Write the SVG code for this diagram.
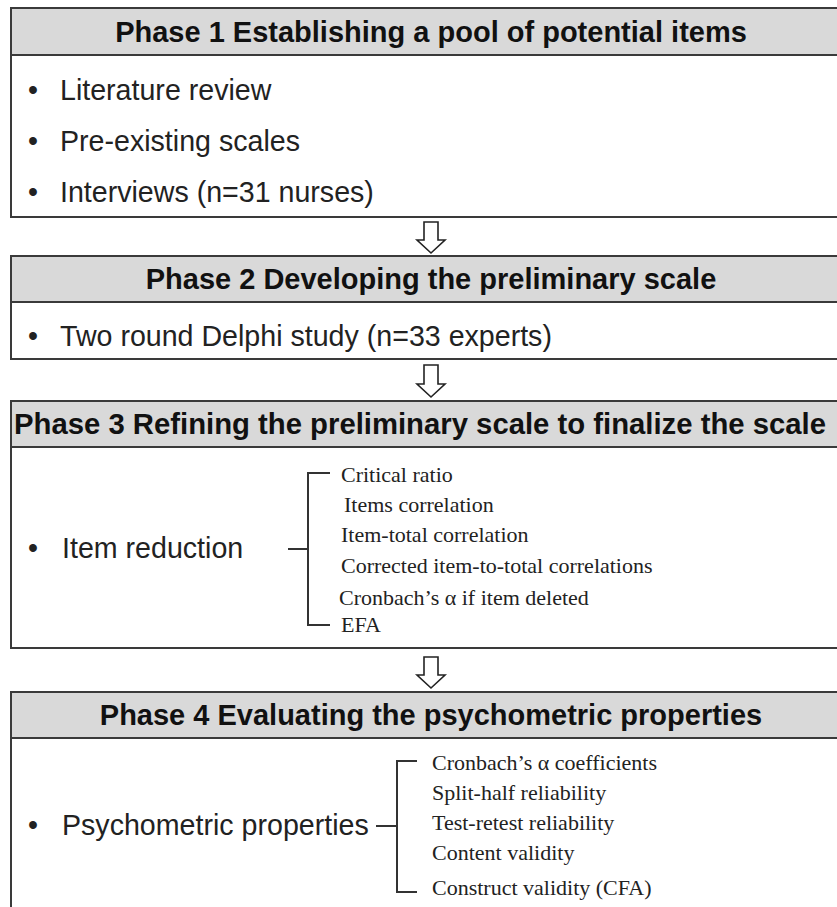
<svg xmlns="http://www.w3.org/2000/svg" width="837" height="907" viewBox="0 0 837 907">
<style>
.box{fill:#ffffff;stroke:#3a3a3a;stroke-width:2}
.hdr{fill:#d9d9d9;stroke:#3a3a3a;stroke-width:2}
.ht{font-family:"Liberation Sans",Arial,sans-serif;font-weight:bold;font-size:29px;fill:#111;text-anchor:middle}
.bt{font-family:"Liberation Sans",Arial,sans-serif;font-size:28.6px;fill:#222}
.st{font-family:"Liberation Serif","Times New Roman",serif;font-size:22px;fill:#222}
.br{fill:none;stroke:#333;stroke-width:2}
.arr{fill:#ffffff;stroke:#222;stroke-width:1.6;stroke-linejoin:miter}
</style>
<rect width="837" height="907" fill="#ffffff"/>
<g id="phase1">
<rect class="box" x="11" y="8" width="850" height="209"/>
<rect class="hdr" x="11" y="8" width="850" height="47"/>
<text class="ht" x="431" y="42">Phase 1 Establishing a pool of potential items</text>
<text class="bt" x="28" y="100">•</text><text class="bt" x="60" y="100">Literature review</text>
<text class="bt" x="28" y="151">•</text><text class="bt" x="60" y="151">Pre-existing scales</text>
<text class="bt" x="28" y="202">•</text><text class="bt" x="60" y="202">Interviews (n=31 nurses)</text>
</g>
<g id="phase2">
<rect class="box" x="11" y="256" width="850" height="103"/>
<rect class="hdr" x="11" y="256" width="850" height="46"/>
<text class="ht" x="431" y="289">Phase 2 Developing the preliminary scale</text>
<text class="bt" x="28" y="346">•</text><text class="bt" x="60" y="346">Two round Delphi study (n=33 experts)</text>
</g>
<g id="phase3">
<rect class="box" x="11" y="401" width="850" height="247"/>
<rect class="hdr" x="11" y="401" width="850" height="46"/>
<text class="ht" x="420" y="434" textLength="812" lengthAdjust="spacingAndGlyphs">Phase 3 Refining the preliminary scale to finalize the scale</text>
<text class="bt" x="28" y="558">•</text><text class="bt" x="62" y="558">Item reduction</text>
<path class="br" d="M330 473H308V625H330M288 549H308"/>
<text class="st" x="341" y="482">Critical ratio</text>
<text class="st" x="344" y="512">Items correlation</text>
<text class="st" x="341" y="542">Item-total correlation</text>
<text class="st" x="341" y="573">Corrected item-to-total correlations</text>
<text class="st" x="339" y="605">Cronbach’s α if item deleted</text>
<text class="st" x="341" y="632">EFA</text>
</g>
<g id="phase4">
<rect class="box" x="11" y="692" width="850" height="240"/>
<rect class="hdr" x="11" y="692" width="850" height="46"/>
<text class="ht" x="431" y="725">Phase 4 Evaluating the psychometric properties</text>
<text class="bt" x="28" y="835">•</text><text class="bt" x="62" y="835">Psychometric properties</text>
<path class="br" d="M417 761H397V892H417M376 826H397"/>
<text class="st" x="432" y="770">Cronbach’s α coefficients</text>
<text class="st" x="432" y="800">Split-half reliability</text>
<text class="st" x="432" y="830">Test-retest reliability</text>
<text class="st" x="432" y="860">Content validity</text>
<text class="st" x="432" y="895">Construct validity (CFA)</text>
</g>
<g id="connectors">
<polygon class="arr" points="424,222 438,222 438,240 445,240 431,253 417,240 424,240"/>
<polygon class="arr" points="424,365 438,365 438,384 445,384 431,397 417,384 424,384"/>
<polygon class="arr" points="424,657 438,657 438,675 445,675 431,688 417,675 424,675"/>
</g>
</svg>
